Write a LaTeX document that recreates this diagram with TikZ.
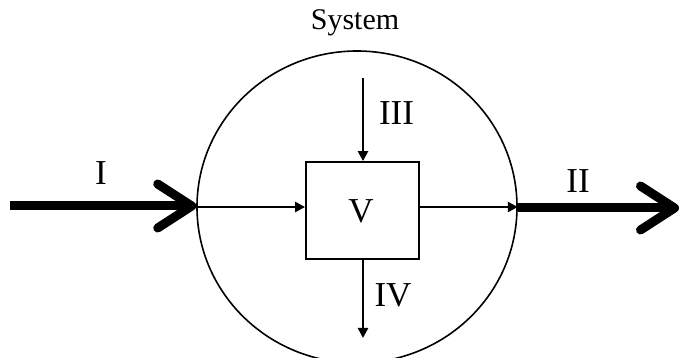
\documentclass[tikz,border=0pt]{standalone}
\usepackage{fontspec}
\setmainfont{Liberation Serif}
\usetikzlibrary{arrows.meta,shapes.geometric}
\begin{document}
\begin{tikzpicture}[x=1pt,y=-1pt,
  thin/.style={line width=2.4pt,-{Triangle[length=10pt,width=10pt]}},
  thick/.style={line width=9pt,-{Straight Barb[length=34pt,width=44pt,round]}},
  lbl/.style={font=\fontsize{35}{40}\selectfont,inner sep=0pt,anchor=base}]
\useasboundingbox (0,0) rectangle (681,358);
\node[draw,ellipse,line width=1.6pt,minimum width=320pt,minimum height=312pt,inner sep=0pt] (sys) at (357,207) {};
\node[draw,line width=1.8pt,minimum width=113pt,minimum height=97pt,inner sep=0pt] (V) at (362.5,210.5) {};
\node[lbl] (lv) at (361,223) {V};
\node[font=\fontsize{30}{36}\selectfont,inner sep=0pt,anchor=base] (title) at (355,30) {System};
\coordinate (inL) at (10,206);
\coordinate (outR) at (679,208);
\coordinate (topIn) at (363,78);
\coordinate (botOut) at (363,338);
\draw[thick] (inL) -- (sys.west |- inL);
\draw[thick] (sys.east |- outR) -- (outR);
\draw[thin] (sys.west) -- (V.west |- sys.west);
\draw[thin] (V.east |- sys.east) -- (sys.east);
\draw[thin] (topIn) -- (V.north -| topIn);
\draw[thin] (V.south -| botOut) -- (botOut);
\node[lbl] (l1) at (101,185) {I};
\node[lbl] (l2) at (578,193) {II};
\node[lbl] (l3) at (396.5,125) {III};
\node[lbl] (l4) at (393,307) {IV};
\end{tikzpicture}
\end{document}
